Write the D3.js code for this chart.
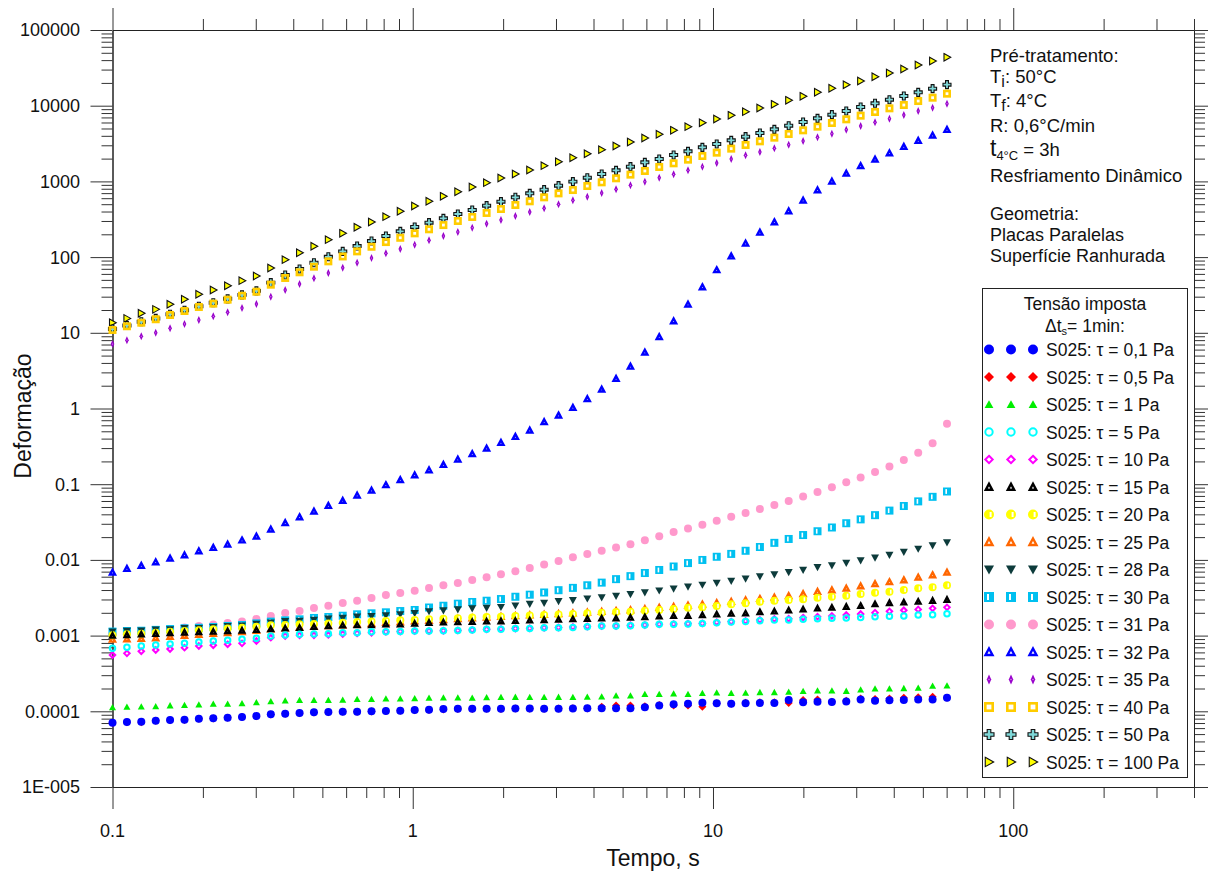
<!DOCTYPE html>
<html>
<head>
<meta charset="utf-8">
<script src="https://cdn.jsdelivr.net/npm/d3@7"></script>
<style>
body { margin: 0; background: #fff; }
svg text { font-family: Arial, "Liberation Sans", sans-serif; fill: #111; }
</style>
</head>
<body>
<svg id="chart" width="1208" height="872"></svg>
<script>
// time points, s (same for every series)
const times = [0.1, 0.1117, 0.1247, 0.1393, 0.1555, 0.1737, 0.1939, 0.2166, 0.2418, 0.2700,
  0.3015, 0.3367, 0.3760, 0.4198, 0.4688, 0.5235, 0.5845, 0.6527, 0.7289, 0.8139,
  0.9088, 1.015, 1.133, 1.265, 1.413, 1.578, 1.762, 1.967, 2.197, 2.453,
  2.739, 3.059, 3.415, 3.814, 4.259, 4.755, 5.310, 5.930, 6.621, 7.394,
  8.256, 9.219, 10.29, 11.50, 12.84, 14.33, 16.01, 17.87, 19.96, 22.29,
  24.89, 27.79, 31.03, 34.65, 38.70, 43.21, 48.25, 53.88, 60.17];

// deformação per imposed stress
const tau01 = [0.0000708, 0.0000722, 0.0000729, 0.0000752, 0.0000767, 0.0000775, 0.0000799, 0.0000807, 0.0000824, 0.0000841,
  0.0000867, 0.0000912, 0.0000931, 0.0000950, 0.0000969, 0.0000979, 0.0000989, 0.0000989, 0.0000999, 0.000101,
  0.000102, 0.000104, 0.000105, 0.000107, 0.000108, 0.000108, 0.000108, 0.000108, 0.000109, 0.000109,
  0.000108, 0.000108, 0.000109, 0.000110, 0.000110, 0.000110, 0.000110, 0.000113, 0.000119, 0.000124,
  0.000126, 0.000130, 0.000128, 0.000126, 0.000128, 0.000129, 0.000129, 0.000141, 0.000132, 0.000134,
  0.000133, 0.000135, 0.000143, 0.000138, 0.000140, 0.000141, 0.000143, 0.000143, 0.000151];
const tau05 = [0.0000700, 0.0000718, 0.0000715, 0.0000748, 0.0000762, 0.0000770, 0.0000795, 0.0000805, 0.0000820, 0.0000838,
  0.0000860, 0.0000905, 0.0000925, 0.0000945, 0.0000965, 0.0000975, 0.0000985, 0.0000990, 0.0000995, 0.000101,
  0.000102, 0.000103, 0.000104, 0.000106, 0.000107, 0.000107, 0.000108, 0.000107, 0.000109, 0.000108,
  0.000108, 0.000109, 0.000110, 0.000109, 0.000115, 0.000119, 0.000119, 0.000117, 0.000121, 0.000119,
  0.000119, 0.000115, 0.000128, 0.000126, 0.000130, 0.000132, 0.000132, 0.000129, 0.000141, 0.000143,
  0.000134, 0.000138, 0.000148, 0.000145, 0.000148, 0.000151, 0.000153, 0.000156, 0.000151];
const tau1 = [0.000112, 0.000114, 0.000115, 0.000116, 0.000119, 0.000120, 0.000122, 0.000125, 0.000125, 0.000127,
  0.000131, 0.000135, 0.000138, 0.000140, 0.000140, 0.000140, 0.000141, 0.000144, 0.000144, 0.000147,
  0.000147, 0.000148, 0.000150, 0.000151, 0.000151, 0.000150, 0.000152, 0.000153, 0.000154, 0.000153,
  0.000153, 0.000154, 0.000153, 0.000155, 0.000156, 0.000161, 0.000161, 0.000168, 0.000168, 0.000171,
  0.000168, 0.000173, 0.000176, 0.000173, 0.000175, 0.000178, 0.000178, 0.000180, 0.000184, 0.000187,
  0.000187, 0.000185, 0.000193, 0.000199, 0.000199, 0.000201, 0.000203, 0.000216, 0.000218];
const tau5 = [0.000679, 0.000700, 0.000729, 0.000751, 0.000774, 0.000790, 0.000823, 0.000849, 0.000866, 0.000893,
  0.000920, 0.000988, 0.00102, 0.00104, 0.00105, 0.00106, 0.00109, 0.00109, 0.00112, 0.00112,
  0.00113, 0.00115, 0.00115, 0.00116, 0.00117, 0.00119, 0.00121, 0.00121, 0.00124, 0.00124,
  0.00127, 0.00127, 0.00128, 0.00131, 0.00134, 0.00134, 0.00135, 0.00138, 0.00141, 0.00141,
  0.00142, 0.00145, 0.00148, 0.00151, 0.00153, 0.00157, 0.00161, 0.00161, 0.00164, 0.00167,
  0.00169, 0.00171, 0.00174, 0.00178, 0.00180, 0.00182, 0.00187, 0.00189, 0.00195];
const tau10 = [0.000554, 0.000583, 0.000620, 0.000645, 0.000665, 0.000693, 0.000729, 0.000744, 0.000767, 0.000790,
  0.000849, 0.000939, 0.000988, 0.00101, 0.00101, 0.00102, 0.00105, 0.00107, 0.00109, 0.00112,
  0.00113, 0.00115, 0.00115, 0.00116, 0.00117, 0.00119, 0.00121, 0.00122, 0.00124, 0.00125,
  0.00127, 0.00128, 0.00130, 0.00132, 0.00134, 0.00134, 0.00137, 0.00138, 0.00141, 0.00142,
  0.00144, 0.00145, 0.00150, 0.00153, 0.00156, 0.00161, 0.00166, 0.00167, 0.00173, 0.00178,
  0.00182, 0.00187, 0.00193, 0.00201, 0.00209, 0.00216, 0.00222, 0.00229, 0.00236];
const tau15 = [0.00100, 0.00102, 0.00104, 0.00106, 0.00108, 0.00110, 0.00111, 0.00113, 0.00115, 0.00117,
  0.00119, 0.00122, 0.00125, 0.00127, 0.00131, 0.00134, 0.00137, 0.00138, 0.00138, 0.00141,
  0.00141, 0.00144, 0.00148, 0.00150, 0.00151, 0.00152, 0.00154, 0.00155, 0.00157, 0.00159,
  0.00161, 0.00163, 0.00165, 0.00167, 0.00169, 0.00169, 0.00173, 0.00176, 0.00180, 0.00182,
  0.00183, 0.00187, 0.00191, 0.00195, 0.00197, 0.00205, 0.00209, 0.00216, 0.00222, 0.00229,
  0.00234, 0.00241, 0.00248, 0.00261, 0.00270, 0.00275, 0.00281, 0.00289, 0.00298];
const tau20 = [0.00101, 0.00104, 0.00106, 0.00109, 0.00112, 0.00115, 0.00118, 0.00121, 0.00124, 0.00127,
  0.00131, 0.00137, 0.00138, 0.00141, 0.00142, 0.00145, 0.00148, 0.00151, 0.00153, 0.00156,
  0.00159, 0.00161, 0.00164, 0.00167, 0.00170, 0.00173, 0.00176, 0.00178, 0.00181, 0.00184,
  0.00187, 0.00190, 0.00193, 0.00197, 0.00201, 0.00205, 0.00207, 0.00213, 0.00218, 0.00225,
  0.00234, 0.00236, 0.00246, 0.00259, 0.00267, 0.00281, 0.00289, 0.00295, 0.00302, 0.00317,
  0.00327, 0.00337, 0.00355, 0.00369, 0.00380, 0.00400, 0.00422, 0.00435, 0.00462];
const tau25 = [0.00089, 0.00090, 0.00091, 0.00093, 0.00097, 0.00100, 0.00103, 0.00106, 0.00109, 0.00112,
  0.00116, 0.00122, 0.00126, 0.00129, 0.00132, 0.00135, 0.00138, 0.00141, 0.00144, 0.00148,
  0.00151, 0.00155, 0.00158, 0.00162, 0.00166, 0.00170, 0.00174, 0.00178, 0.00182, 0.00186,
  0.00190, 0.00194, 0.00198, 0.00203, 0.00207, 0.00213, 0.00218, 0.00225, 0.00234, 0.00241,
  0.00251, 0.00259, 0.00270, 0.00281, 0.00295, 0.00307, 0.00320, 0.00334, 0.00355, 0.00380,
  0.00400, 0.00422, 0.00452, 0.00481, 0.00511, 0.00543, 0.00589, 0.00632, 0.00685];
const tau28 = [0.00113, 0.00115, 0.00116, 0.00120, 0.00121, 0.00125, 0.00125, 0.00129, 0.00133, 0.00135,
  0.00142, 0.00148, 0.00155, 0.00156, 0.00161, 0.00167, 0.00171, 0.00178, 0.00180, 0.00185,
  0.00191, 0.00197, 0.00209, 0.00215, 0.00222, 0.00228, 0.00232, 0.00238, 0.00249, 0.00261,
  0.00270, 0.00284, 0.00294, 0.00308, 0.00318, 0.00333, 0.00353, 0.00371, 0.00393, 0.00416,
  0.00441, 0.00468, 0.00496, 0.00526, 0.00564, 0.00604, 0.00641, 0.00687, 0.00738, 0.00798,
  0.00845, 0.00908, 0.00984, 0.0107, 0.0116, 0.0127, 0.0140, 0.0155, 0.0170];
const tau30 = [0.00113, 0.00115, 0.00116, 0.00119, 0.00122, 0.00125, 0.00127, 0.00130, 0.00134, 0.00138,
  0.00145, 0.00153, 0.00159, 0.00164, 0.00171, 0.00176, 0.00183, 0.00191, 0.00197, 0.00203,
  0.00211, 0.00218, 0.00235, 0.00248, 0.00264, 0.00278, 0.00289, 0.00304, 0.00326, 0.00347,
  0.00371, 0.00398, 0.00427, 0.00462, 0.00501, 0.00557, 0.00610, 0.00671, 0.00736, 0.00818,
  0.00908, 0.00998, 0.0110, 0.0120, 0.0132, 0.0148, 0.0168, 0.0189, 0.0213, 0.0239,
  0.0268, 0.0305, 0.0343, 0.0390, 0.0448, 0.0515, 0.0593, 0.0681, 0.0801];
const tau31 = [0.00105, 0.00108, 0.00112, 0.00117, 0.00122, 0.00128, 0.00134, 0.00140, 0.00147, 0.00153,
  0.00166, 0.00182, 0.00199, 0.00211, 0.00232, 0.00248, 0.00270, 0.00289, 0.00314, 0.00344,
  0.00366, 0.00392, 0.00425, 0.00462, 0.00496, 0.00543, 0.00589, 0.00645, 0.00707, 0.00782,
  0.00867, 0.00964, 0.0108, 0.0120, 0.0132, 0.0146, 0.0161, 0.0182, 0.0205, 0.0233,
  0.0259, 0.0291, 0.0330, 0.0372, 0.0418, 0.0469, 0.0533, 0.0600, 0.0690, 0.0791,
  0.0910, 0.106, 0.123, 0.145, 0.171, 0.208, 0.260, 0.348, 0.630];
const tau32 = [0.00686, 0.00766, 0.00839, 0.00938, 0.0105, 0.0116, 0.0131, 0.0145, 0.0161, 0.0182,
  0.0205, 0.0254, 0.0308, 0.0369, 0.0439, 0.0521, 0.0607, 0.0713, 0.0830, 0.0977,
  0.114, 0.132, 0.154, 0.181, 0.213, 0.251, 0.298, 0.354, 0.425, 0.515,
  0.664, 0.815, 1.03, 1.34, 1.79, 2.48, 3.60, 5.52, 8.84, 14.3,
  23.8, 40.3, 67.6, 103, 152, 212, 291, 406, 562, 769,
  1002, 1279, 1600, 1959, 2371, 2875, 3451, 4060, 4820];
const tau35 = [7.1, 8.0, 9.0, 10.0, 11.5, 13.1, 14.8, 16.5, 18.7, 21.3,
  24.0, 30.0, 36.7, 44.2, 52.5, 61.7, 72.4, 84.4, 97.3, 112,
  128, 146, 167, 190, 215, 245, 276, 309, 349, 394,
  441, 498, 562, 628, 703, 785, 887, 993, 1119, 1239,
  1400, 1566, 1750, 1977, 2208, 2443, 2735, 3055, 3419, 3819,
  4273, 4827, 5395, 6026, 6740, 7534, 8511, 9413, 10640];
const tau40 = [10.9, 12.2, 13.6, 15.1, 17.2, 19.4, 21.9, 24.3, 27.4, 30.9,
  34.9, 43.2, 53, 63, 74.7, 87.9, 102, 119, 137, 158,
  180, 206, 233, 265, 300, 339, 383, 432, 488, 546,
  616, 695, 769, 869, 972, 1099, 1228, 1373, 1549, 1733,
  1937, 2166, 2397, 2708, 3027, 3384, 3783, 4229, 4728, 5285,
  5909, 6607, 7386, 8258, 9232, 10210, 11530, 12760, 14420];
const tau50 = [11.2, 12.5, 14.0, 15.5, 17.6, 19.9, 22.4, 24.9, 28.1, 31.7,
  35.8, 46, 58, 69.7, 84.4, 101, 119, 140, 163, 190,
  219, 250, 285, 325, 371, 419, 478, 540, 617, 695,
  778, 879, 993, 1119, 1253, 1400, 1566, 1786, 1977, 2233,
  2496, 2818, 3118, 3488, 3899, 4357, 4871, 5446, 6089, 6808,
  7612, 8511, 9613, 10750, 12010, 13430, 15020, 16790, 18960];
const tau100 = [13.6, 15.5, 18.1, 20.4, 23.8, 27.7, 32.3, 36.7, 41.9, 48.8,
  56.2, 71.8, 92.5, 114, 139, 170, 206, 248, 291, 342,
  403, 473, 546, 635, 731, 843, 962, 1109, 1253, 1415,
  1613, 1820, 2056, 2322, 2624, 2936, 3315, 3744, 4190, 4730,
  5285, 5960, 6670, 7460, 8340, 9330, 10430, 11780, 13300, 15030,
  16980, 18930, 21180, 24150, 27040, 30550, 34500, 38950, 43550];

const seriesLabels = ["S025: τ = 0,1 Pa", "S025: τ = 0,5 Pa", "S025: τ = 1 Pa", "S025: τ = 5 Pa",
  "S025: τ = 10 Pa", "S025: τ = 15 Pa", "S025: τ = 20 Pa", "S025: τ = 25 Pa",
  "S025: τ = 28 Pa", "S025: τ = 30 Pa", "S025: τ = 31 Pa", "S025: τ = 32 Pa",
  "S025: τ = 35 Pa", "S025: τ = 40 Pa", "S025: τ = 50 Pa", "S025: τ = 100 Pa"];
const seriesValues = [tau01, tau05, tau1, tau5, tau10, tau15, tau20, tau25,
  tau28, tau30, tau31, tau32, tau35, tau40, tau50, tau100];

const yTickLabels = ["1E-005", "0.0001", "0.001", "0.01", "0.1", "1", "10", "100", "1000", "10000", "100000"];
const xTickLabels = ["0.1", "1", "10", "100"];

// marker styles, same order as the series
const markerStyle = [
  {type: "dot", color: "#0000ff", size: 8},
  {type: "diamond", color: "#ff0000", size: 8},
  {type: "tri", color: "#00ee00", size: 7},
  {type: "ring", color: "#00ffff", size: 7.5},
  {type: "diamondOpen", color: "#ff00ff", size: 7.5},
  {type: "triOpen", color: "#000000", size: 7},
  {type: "half", color: "#ffff00", size: 8},
  {type: "triOpen", color: "#ff6600", size: 7.5},
  {type: "triDown", color: "#0d3b3b", size: 8},
  {type: "squareHalf", color: "#00c0f0", size: 8},
  {type: "dot", color: "#ff99cc", size: 8},
  {type: "triOpen", color: "#0000ff", size: 7.5},
  {type: "thin", color: "#9900cc", size: 8},
  {type: "squareOpen", color: "#ffcc00", size: 8},
  {type: "plus", color: "#7fd8d8", size: 8},
  {type: "triRight", color: "#ffff00", size: 7.5}
];

const svg = d3.select("#chart");
const plotLeft = 112.5, plotRight = 1194, plotTop = 30, plotBottom = 787;

const x = d3.scaleLog().domain([0.1, 400]).range([plotLeft, plotRight]);
const y = d3.scaleLog().domain([1e-5, 1e5]).range([plotBottom, plotTop]);

// ---- ticks on all four sides ----
const xMajor = [0.1, 1, 10, 100];
const xMinor = [];
[0.1, 1, 10, 100].forEach(d => { for (let k = 2; k <= 9; k++) { if (d * k <= 400) xMinor.push(d * k); } });
const yMajor = [];
const yMinor = [];
for (let e = -5; e <= 5; e++) {
    yMajor.push(Math.pow(10, e));
    if (e < 5) for (let k = 2; k <= 9; k++) yMinor.push(k * Math.pow(10, e));
}

function axisPart(fn, scale, tr, vals, len) {
    const g = svg.append("g").attr("transform", tr)
        .call(fn(scale).tickValues(vals).tickSize(len).tickSizeOuter(0).tickFormat(""));
    g.selectAll(".tick line").attr("stroke", "#333");
    g.select(".domain").attr("stroke", "#222");
}
axisPart(d3.axisBottom, x, `translate(0,${plotBottom})`, xMinor, 11);
axisPart(d3.axisBottom, x, `translate(0,${plotBottom})`, xMajor, 22);
axisPart(d3.axisTop, x, `translate(0,${plotTop})`, xMinor, 11);
axisPart(d3.axisTop, x, `translate(0,${plotTop})`, xMajor, 22);
axisPart(d3.axisLeft, y, `translate(${plotLeft},0)`, yMinor, 11);
axisPart(d3.axisLeft, y, `translate(${plotLeft},0)`, yMajor, 22);
axisPart(d3.axisRight, y, `translate(${plotRight},0)`, yMinor, 11);
axisPart(d3.axisRight, y, `translate(${plotRight},0)`, yMajor, 22);

// tick labels
yMajor.forEach((v, i) => {
    svg.append("text").attr("x", 80).attr("y", y(v)).attr("dy", "0.36em")
        .attr("text-anchor", "end").style("font-size", "18px").text(yTickLabels[i]);
});
xMajor.forEach((v, i) => {
    svg.append("text").attr("x", x(v)).attr("y", 837)
        .attr("text-anchor", "middle").style("font-size", "18px").text(xTickLabels[i]);
});

// axis titles
svg.append("text").attr("x", 653).attr("y", 866).attr("text-anchor", "middle")
    .style("font-size", "23px").text("Tempo, s");
svg.append("text").attr("transform", "translate(31,416) rotate(-90)").attr("text-anchor", "middle")
    .style("font-size", "23px").text("Deformação");

// ---- markers ----
function drawMarker(g, st, s) {
    const h = s / 2, c = st.color;
    switch (st.type) {
        case "dot":
            g.append("circle").attr("r", h).attr("fill", c); break;
        case "ring":
            g.append("circle").attr("r", h - 1).attr("fill", "none").attr("stroke", c).attr("stroke-width", 2); break;
        case "diamond":
            g.append("path").attr("d", `M0,${-h}L${h},0L0,${h}L${-h},0Z`).attr("fill", c); break;
        case "diamondOpen":
            g.append("path").attr("d", `M0,${-h + 1}L${h - 1},0L0,${h - 1}L${-h + 1},0Z`)
                .attr("fill", "none").attr("stroke", c).attr("stroke-width", 2); break;
        case "tri":
            g.append("path").attr("d", `M0,${-h}L${h},${h * 0.8}L${-h},${h * 0.8}Z`).attr("fill", c); break;
        case "triOpen":
            g.append("path").attr("d", `M0,${-h + 1.2}L${h - 1.2},${h * 0.8 - 0.8}L${-h + 1.2},${h * 0.8 - 0.8}Z`)
                .attr("fill", "#fff").attr("stroke", c).attr("stroke-width", 2.4).attr("stroke-linejoin", "miter"); break;
        case "triDown":
            g.append("path").attr("d", `M0,${h}L${h},${-h * 0.8}L${-h},${-h * 0.8}Z`).attr("fill", c); break;
        case "half":
            g.append("circle").attr("r", h).attr("fill", c);
            g.append("rect").attr("x", h * 0.12).attr("y", -h * 0.5).attr("width", h * 0.4).attr("height", h).attr("fill", "#fff"); break;
        case "squareHalf":
            g.append("rect").attr("x", -h).attr("y", -h).attr("width", s).attr("height", s).attr("fill", c);
            g.append("rect").attr("x", -h * 0.4).attr("y", -h * 0.6).attr("width", h * 0.4).attr("height", h * 1.2).attr("fill", "#fff"); break;
        case "squareOpen":
            g.append("rect").attr("x", -h + 1.3).attr("y", -h + 1.3).attr("width", s - 2.6).attr("height", s - 2.6)
                .attr("fill", "none").attr("stroke", c).attr("stroke-width", 2.6); break;
        case "thin":
            g.append("path").attr("d", `M0,${-h}L${h * 0.45},0L0,${h}L${-h * 0.45},0Z`).attr("fill", c);
            g.append("circle").attr("r", h * 0.14).attr("fill", "#d9a6ec"); break;
        case "plus": {
            const a = h * 0.36;
            g.append("path").attr("d", `M${-a},${-h}H${a}V${-a}H${h}V${a}H${a}V${h}H${-a}V${a}H${-h}V${-a}H${-a}Z`)
                .attr("fill", c).attr("stroke", "#111").attr("stroke-width", 1.1); break;
        }
        case "triRight":
            g.append("path").attr("d", `M${-h * 0.8},${-h}L${h},0L${-h * 0.8},${h}Z`)
                .attr("fill", c).attr("stroke", "#111").attr("stroke-width", 1.1); break;
    }
}

const plotArea = svg.append("g");
// drawn from last to first so the small stresses lie on top
for (let s = seriesValues.length - 1; s >= 0; s--) {
    const grp = plotArea.append("g");
    const pts = grp.selectAll("g").data(seriesValues[s].map((v, i) => ({t: times[i], v: v})))
        .enter().append("g")
        .attr("transform", d => `translate(${x(d.t)},${y(d.v)})`);
    pts.each(function () { drawMarker(d3.select(this), markerStyle[s], markerStyle[s].size); });
}

// ---- annotation ----
const note = svg.append("g").style("font-size", "18.5px");
note.append("text").attr("x", 990).attr("y", 62).text("Pré-tratamento:");
const ti = note.append("text").attr("x", 990).attr("y", 83);
ti.append("tspan").text("T");
ti.append("tspan").attr("dy", 4).style("font-size", "16px").text("i");
ti.append("tspan").attr("dy", -4).text(": 50°C");
const tf = note.append("text").attr("x", 990).attr("y", 107);
tf.append("tspan").text("T");
tf.append("tspan").attr("dy", 4).style("font-size", "16px").text("f");
tf.append("tspan").attr("dy", -4).text(": 4°C");
note.append("text").attr("x", 990).attr("y", 132).text("R: 0,6°C/min");
const t4 = note.append("text").attr("x", 990).attr("y", 156);
t4.append("tspan").style("font-size", "23px").text("t");
t4.append("tspan").attr("dy", 4).style("font-size", "13px").text("4°C");
t4.append("tspan").attr("dy", -4).text(" = 3h");
note.append("text").attr("x", 990).attr("y", 182).text("Resfriamento Dinâmico");
const geo = svg.append("g").style("font-size", "18px");
geo.append("text").attr("x", 990).attr("y", 220).text("Geometria:");
geo.append("text").attr("x", 990).attr("y", 241).text("Placas Paralelas");
geo.append("text").attr("x", 990).attr("y", 262).text("Superfície Ranhurada");

// ---- legend ----
const leg = svg.append("g");
leg.append("rect").attr("x", 982.5).attr("y", 288.5).attr("width", 205).attr("height", 489)
    .attr("fill", "#fff").attr("stroke", "#222").attr("stroke-width", 1);
leg.append("text").attr("x", 1085).attr("y", 310).attr("text-anchor", "middle")
    .style("font-size", "17.5px").text("Tensão imposta");
const dt = leg.append("text").attr("x", 1085).attr("y", 332).attr("text-anchor", "middle").style("font-size", "17.5px");
dt.append("tspan").text("Δt");
dt.append("tspan").attr("dy", 3).style("font-size", "11px").text("s");
dt.append("tspan").attr("dy", -3).text("= 1min:");

seriesLabels.forEach((lab, k) => {
    const cy = 349.5 + 27.5 * k;
    [989, 1011, 1033].forEach(cx => {
        const g = leg.append("g").attr("transform", `translate(${cx},${cy})`);
        drawMarker(g, markerStyle[k], markerStyle[k].size * 1.25);
    });
    leg.append("text").attr("x", 1046).attr("y", cy + 6.5).style("font-size", "17.5px").text(lab);
});
</script>
</body>
</html>
